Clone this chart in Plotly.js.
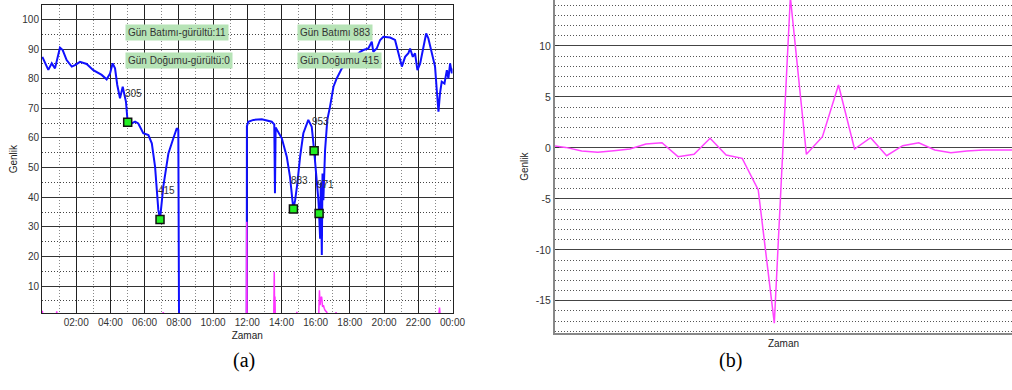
<!DOCTYPE html>
<html>
<head>
<meta charset="utf-8">
<script src="https://cdn.plot.ly/plotly-3.0.1.min.js"></script>
<style>html,body{margin:0;padding:0;background:#fff;}#chart{width:1012px;height:390px;}</style>
</head>
<body>
<div id="chart"></div>
<script>
// ---- Chart (a): daily amplitude (hours 0..24) ----
const blueHours = [0.02,0.37,0.57,0.76,1.05,1.21,1.44,1.74,1.93,2.22,2.61,3.0,3.49,3.78,3.98,4.13,4.27,4.40,4.56,4.66,4.72,4.80,4.91,5.01,5.10,5.44,5.63,5.92,6.22,6.42,6.61,6.80,6.90,7.09,7.39,7.68,7.88,7.97,8.01,
  null,
  11.97,11.98,12.06,12.36,12.85,13.43,13.58,13.62,13.66,14.02,14.31,14.50,14.66,14.70,14.80,14.93,15.09,15.28,15.57,15.77,15.91,16.06,16.16,16.20,16.26,16.30,16.36,16.40,16.45,16.55,16.68,16.84,17.04,17.23,17.53,18.01,18.30,18.60,18.79,19.08,19.28,19.37,19.57,19.77,19.96,20.35,20.64,20.84,21.04,21.23,21.42,21.52,21.68,21.81,21.95,22.11,22.26,22.46,22.59,22.79,22.98,23.08,23.18,23.27,23.37,23.53,23.67,23.76,23.86,23.96,24.0];
const blueValues = [87.4,83.0,85.2,83.5,90.5,89.7,86.3,84.1,84.6,85.7,85.0,82.9,81.3,79.8,81.8,85.2,83.5,77.9,73.4,75.6,77.3,75.1,72.2,65.3,64.5,65.5,64.9,61.6,61.0,58.2,50.3,35.7,32.5,43.5,54.8,59.9,63.3,62.7,0,
  null,
  0,64.0,65.5,66.1,66.3,65.5,64.6,41.3,63.5,59.9,53.7,46.9,37.9,36.0,39.0,44.7,53.7,61.6,66.1,63.8,55.7,46.9,39.0,34.5,26.0,45.0,20.5,48.0,39.0,55.9,66.1,70.6,77.3,80.1,83.5,86.0,87.5,89.1,89.7,90.2,92.5,89.1,90.2,93.1,94.2,93.9,93.1,88.6,84.1,87.4,88.6,90.2,87.4,88.6,82.9,85.2,89.7,95.3,93.6,88.6,84.1,76.2,68.9,75.1,79.0,78.4,82.9,80.1,85.2,81.8,83.5];

const noiseHours = [0,0.02,0.05,0.84,0.86,0.89,7.06,7.09,7.12,11.95,11.97,11.99,13.55,13.58,13.60,13.62,13.64,14.87,14.90,14.93,16.18,16.22,16.26,16.30,16.35,16.40,16.45,16.50,16.55,16.65,16.70,17.16,17.19,17.22,23.20,23.24,23.28,24];
const noiseValues = [0,1.6,0,0,1.5,0,0,1.2,0,0,31.7,0,0,14.8,0,6.5,0,0,1.3,0,0,8.6,3.5,6.0,6.4,3.0,3.5,2.5,1.8,1.2,0,0,1.2,0,0,2.7,0,0];

const markerHours = [5.01,6.90,14.70,15.91,16.20];
const markerValues = [65.3,32.5,36.0,55.7,34.5];
const markerLabels = ['305','415','883','953','971'];

const hourTickVals = [2,4,6,8,10,12,14,16,18,20,22,24];
const hourTickText = ['02:00','04:00','06:00','08:00','10:00','12:00','14:00','16:00','18:00','20:00','22:00','00:00'];

const boxTexts = ['Gün Batımı-gürültü:11','Gün Doğumu-gürültü:0','Gün Batımı 883','Gün Doğumu 415'];
const boxHours = [4.85,4.85,14.89,14.89];
const boxValues = [95.6,86.3,95.6,86.3];

// ---- Chart (b): filtered signal ----
const sampleIndex = [-2,-1,0,1,2,3,4,5,6,7,8,9,10,11,12,13,14,15,16,17,18,19,20,21,22,23,24,25,26,27];
const sampleValues = [0.25,0.05,-0.30,-0.43,-0.27,-0.11,0.38,0.51,-0.86,-0.63,0.94,-0.70,-1.02,-4.13,-17.2,14.8,-0.63,1.10,6.17,-0.11,1.0,-0.77,0.22,0.51,-0.21,-0.47,-0.30,-0.20,-0.20,-0.20];
const ampTickVals = [-15,-10,-5,0,5,10];
const ampTickText = ['-15','-10','-5','0','5','10'];

const FONT = 'Liberation Sans, Arial, sans-serif';
const W = 1012, H = 390;
const dx = (a,b)=>[a/W,b/W];
const dy = (top,bot)=>[(H-bot)/H,(H-top)/H];

const traces = [
  {x: blueHours, y: blueValues, xaxis:'x', yaxis:'y', mode:'lines', line:{color:'#1010ff', width:2}, connectgaps:false, hoverinfo:'skip'},
  {x: noiseHours, y: noiseValues, xaxis:'x', yaxis:'y', mode:'lines', line:{color:'#ff33ff', width:1.5}, hoverinfo:'skip'},
  {x: markerHours, y: markerValues, xaxis:'x', yaxis:'y', mode:'markers', marker:{symbol:'square', size:8, color:'#22ee22', line:{color:'#111', width:1.5}}, hoverinfo:'skip'},
  {x: sampleIndex, y: sampleValues, xaxis:'x2', yaxis:'y2', mode:'lines', line:{color:'#ff44ff', width:1.5}, hoverinfo:'skip'}
];

const annotations = [];
markerLabels.forEach((t,i)=>annotations.push({xref:'x', yref:'y', x:markerHours[i], y:markerValues[i], text:t, showarrow:false, xshift:6, yshift:29, font:{family:FONT, size:10, color:'#333'}}));
boxTexts.forEach((t,i)=>annotations.push({xref:'x', yref:'y', x:boxHours[i], y:boxValues[i], xanchor:'left', yanchor:'middle', text:t, showarrow:false, bgcolor:'#b6e3b6', borderpad:2, font:{family:FONT, size:10, color:'#333'}}));
annotations.push({xref:'paper', yref:'paper', x:231/W, y:(H-374)/H, text:'(a)', showarrow:false, font:{family:'Liberation Serif, Times New Roman, serif', size:20, color:'#000'}});
annotations.push({xref:'paper', yref:'paper', x:744/W, y:(H-374)/H, text:'(b)', showarrow:false, font:{family:'Liberation Serif, Times New Roman, serif', size:20, color:'#000'}});

const layout = {
  width: W, height: H,
  margin: {l:0, r:0, t:0, b:0},
  paper_bgcolor:'#fff', plot_bgcolor:'#fff',
  showlegend:false,
  font:{family:FONT, size:10, color:'#333'},
  xaxis: {
    domain: dx(42,452.5), range:[0,24], anchor:'y',
    tickmode:'array', tickvals: hourTickVals, ticktext: hourTickText,
    showgrid:true, gridcolor:'#222', gridwidth:1,
    minor:{tickmode:'linear', tick0:1, dtick:2, showgrid:true, gridcolor:'#888', griddash:'1px,2px', gridwidth:1},
    showline:true, mirror:true, linecolor:'#222', linewidth:1,
    zeroline:false, ticks:'', tickfont:{family:FONT, size:10, color:'#333'},
    title:{text:'Zaman', font:{family:FONT, size:10, color:'#222'}, standoff:4}
  },
  yaxis: {
    domain: dy(5,313.3), range:[0.8,104.9], anchor:'x',
    tickmode:'linear', tick0:0, dtick:10,
    showgrid:true, gridcolor:'#333', gridwidth:1,
    minor:{tickmode:'linear', tick0:0, dtick:5, showgrid:true, gridcolor:'#444', griddash:'1px,2px', gridwidth:1},
    showline:true, mirror:true, linecolor:'#222', linewidth:1,
    zeroline:false, ticks:'', tickfont:{family:FONT, size:10, color:'#333'},
    title:{text:'Genlik', font:{family:FONT, size:10, color:'#222'}, standoff:2}
  },
  xaxis2: {
    domain: dx(555,1012), range:[-1.664,26.81], anchor:'y2',
    showgrid:false, showticklabels:false, ticks:'', zeroline:false,
    showline:true, linecolor:'#888', linewidth:2,
    title:{text:'Zaman', font:{family:FONT, size:10, color:'#222'}, standoff:6}
  },
  yaxis2: {
    domain: dy(0,333.3), range:[-18.19,14.51], anchor:'x2',
    tickmode:'array', tickvals: ampTickVals, ticktext: ampTickText,
    showgrid:true, gridcolor:'#444', gridwidth:1,
    minor:{tickmode:'linear', tick0:0, dtick:1, showgrid:true, gridcolor:'#555', griddash:'1px,2px', gridwidth:1},
    showline:true, linecolor:'#888', linewidth:2,
    zeroline:false, ticks:'inside', ticklen:4, tickcolor:'#333',
    tickfont:{family:FONT, size:10.5, color:'#333'},
    title:{text:'Genlik', font:{family:FONT, size:10, color:'#222'}, standoff:5}
  },
  annotations: annotations
};

Plotly.newPlot('chart', traces, layout, {staticPlot:true, displayModeBar:false});
</script>
</body>
</html>
